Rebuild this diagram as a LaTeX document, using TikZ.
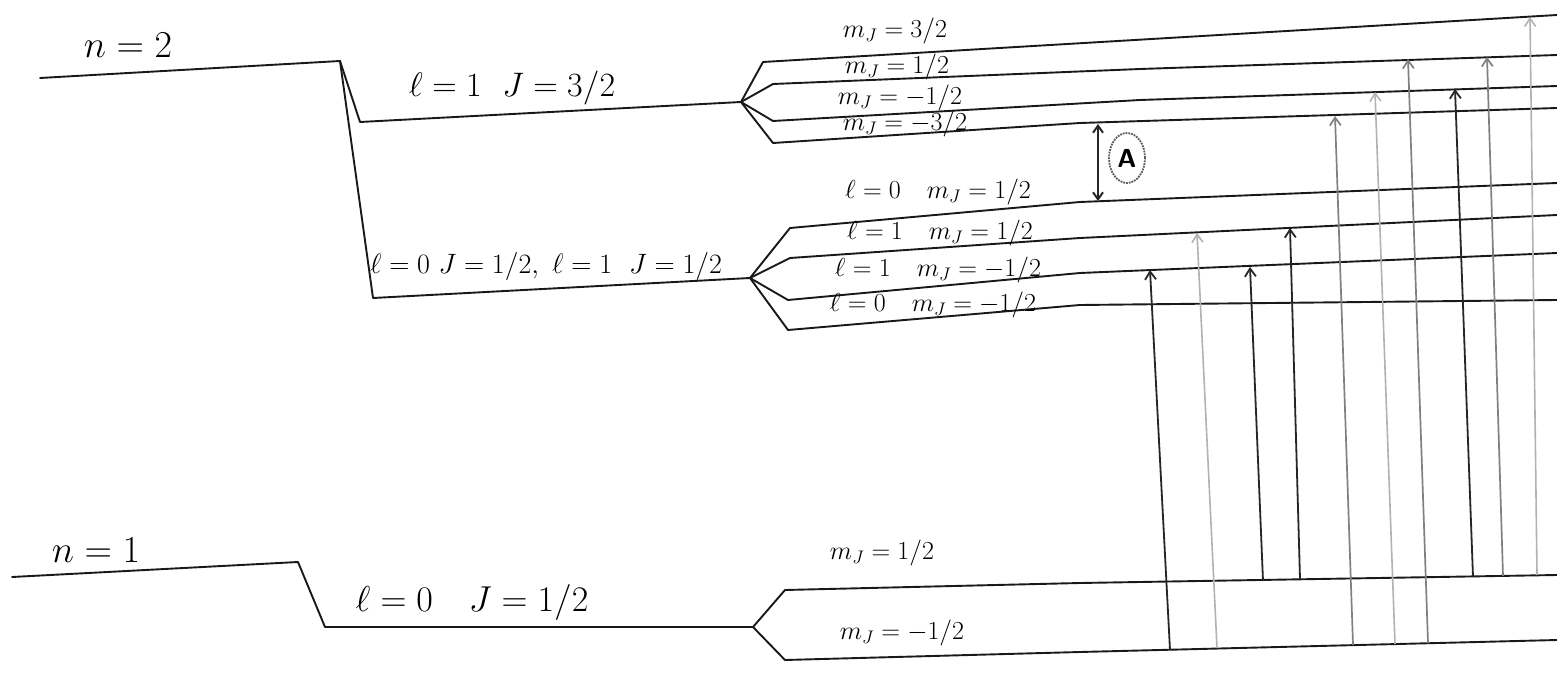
\documentclass[tikz,border=0pt]{standalone}
\usepackage{fix-cm}
\usetikzlibrary{arrows.meta,shapes.geometric}
\begin{document}
\begin{tikzpicture}[x=1pt,y=-1pt,
  lvl/.style={line width=1.9pt,black!90,line cap=round,line join=round},
  darr/.style={line width=1.8pt,black!85,-{Straight Barb[length=8pt,width=11pt]}},
  marr/.style={line width=1.7pt,black!50,-{Straight Barb[length=8pt,width=11pt]}},
  larr/.style={line width=1.6pt,black!30,-{Straight Barb[length=8pt,width=11pt]}},
  big/.style={font=\fontsize{38}{42}\selectfont,inner sep=0pt},
  mid/.style={font=\fontsize{34}{38}\selectfont,inner sep=0pt},
  sml/.style={font=\fontsize{26}{28}\selectfont,inner sep=0pt}]
\fill[white] (0,0) rectangle (1557,676);
\useasboundingbox (0,0) rectangle (1557,676);

% level coordinates
\coordinate (n2a) at (40,78);   \coordinate (n2b) at (340,61);
\coordinate (j32a) at (360,122); \coordinate (j32b) at (741,102);
\coordinate (j12a) at (373,298); \coordinate (j12b) at (750,278);
\coordinate (l1a) at (763,62);  \coordinate (l1b) at (1557,15);
\coordinate (l2a) at (773,84);  \coordinate (l2m) at (1140,69);  \coordinate (l2b) at (1557,55);
\coordinate (l3a) at (773,121); \coordinate (l3m) at (1140,100); \coordinate (l3b) at (1557,86);
\coordinate (l4a) at (773,143); \coordinate (l4m) at (1080,123); \coordinate (l4b) at (1557,108);
\coordinate (l5a) at (790,228); \coordinate (l5m) at (1080,202); \coordinate (l5b) at (1557,183);
\coordinate (l6a) at (790,258); \coordinate (l6m) at (1080,238); \coordinate (l6b) at (1557,215);
\coordinate (l7a) at (788,300); \coordinate (l7m) at (1080,273); \coordinate (l7b) at (1557,253);
\coordinate (l8a) at (788,330); \coordinate (l8m) at (1080,305); \coordinate (l8b) at (1557,300);
\coordinate (n1a) at (12,577);  \coordinate (n1b) at (298,562);
\coordinate (sa) at (325,627);  \coordinate (sb) at (753,627);
\coordinate (ua) at (785,590);  \coordinate (um) at (1080,583); \coordinate (ub) at (1557,575);
\coordinate (da) at (785,660);  \coordinate (dm) at (1080,652); \coordinate (db) at (1557,640);

% n = 2 structure
\draw[lvl] (n2a) -- (n2b);
\draw[lvl] (n2b) -- (j32a) -- (j32b);
\draw[lvl] (n2b) -- (j12a) -- (j12b);
\draw[lvl] (j32b) -- (l1a) -- (l1b);
\draw[lvl] (j32b) -- (l2a) -- (l2m) -- (l2b);
\draw[lvl] (j32b) -- (l3a) -- (l3m) -- (l3b);
\draw[lvl] (j32b) -- (l4a) -- (l4m) -- (l4b);
\draw[lvl] (j12b) -- (l5a) -- (l5m) -- (l5b);
\draw[lvl] (j12b) -- (l6a) -- (l6m) -- (l6b);
\draw[lvl] (j12b) -- (l7a) -- (l7m) -- (l7b);
\draw[lvl] (j12b) -- (l8a) -- (l8m) -- (l8b);

% n = 1 structure
\draw[lvl] (n1a) -- (n1b) -- (sa) -- (sb);
\draw[lvl] (sb) -- (ua) -- (um) -- (ub);
\draw[lvl] (sb) -- (da) -- (dm) -- (db);

% labels
\node[big] (tn2) at (128,45) {$n=2$};
\node[big] (tn1) at (96,550) {$n=1$};
\node[mid] (tj32) at (512,88) {$\ell=1\ \ J=3/2$};
\node[font=\fontsize{28}{31}\selectfont,inner sep=0pt] (tj12) at (546,266) {$\ell=0\ J=1/2,\ \ell=1\ \ J=1/2$};
\node[font=\fontsize{36}{40}\selectfont,inner sep=0pt] (tj1) at (472,602) {$\ell=0\quad J=1/2$};
\node[sml] (m1) at (895,31) {$m_J=3/2$};
\node[sml] (m2) at (897,67) {$m_J=1/2$};
\node[sml] (m3) at (900,98) {$m_J=-1/2$};
\node[sml] (m4) at (905,124) {$m_J=-3/2$};
\node[sml] (m5) at (938,192) {$\ell=0\quad m_J=1/2$};
\node[sml] (m6) at (940,233) {$\ell=1\quad m_J=1/2$};
\node[sml] (m7) at (938,270) {$\ell=1\quad m_J=-1/2$};
\node[sml] (m8) at (933,305) {$\ell=0\quad m_J=-1/2$};
\node[sml] (m9) at (882,553) {$m_J=1/2$};
\node[sml] (m10) at (902,633) {$m_J=-1/2$};

% splitting A
\coordinate (A1) at (1098,124); \coordinate (A2) at (1098,201);
\draw[line width=2pt,black!85,{Straight Barb[length=7pt,width=10pt]}-{Straight Barb[length=7pt,width=10pt]}] (A1) -- (A2);
\node[ellipse,draw=black!65,densely dotted,line width=1.8pt,minimum width=36pt,minimum height=50pt,inner sep=0pt,font=\fontsize{26}{28}\selectfont\sffamily\bfseries] (Acirc) at (1127,158) {A};

% transitions
\coordinate (s1) at (1170,650); \coordinate (e1) at (1150,270);
\coordinate (s2) at (1217,648); \coordinate (e2) at (1197,233);
\coordinate (s3) at (1263,581); \coordinate (e3) at (1250,267);
\coordinate (s4) at (1300,579); \coordinate (e4) at (1290,228);
\coordinate (s5) at (1353,645); \coordinate (e5) at (1335,116);
\coordinate (s6) at (1395,644); \coordinate (e6) at (1375,92);
\coordinate (s7) at (1428,643); \coordinate (e7) at (1408,59);
\coordinate (s8) at (1473,577); \coordinate (e8) at (1455,89);
\coordinate (s9) at (1503,576); \coordinate (e9) at (1487,57);
\coordinate (s10) at (1537,575); \coordinate (e10) at (1530,17);
\draw[darr] (s1) -- (e1);
\draw[larr] (s2) -- (e2);
\draw[darr] (s3) -- (e3);
\draw[darr] (s4) -- (e4);
\draw[marr] (s5) -- (e5);
\draw[larr] (s6) -- (e6);
\draw[marr] (s7) -- (e7);
\draw[darr] (s8) -- (e8);
\draw[marr] (s9) -- (e9);
\draw[larr] (s10) -- (e10);
\end{tikzpicture}
\end{document}
